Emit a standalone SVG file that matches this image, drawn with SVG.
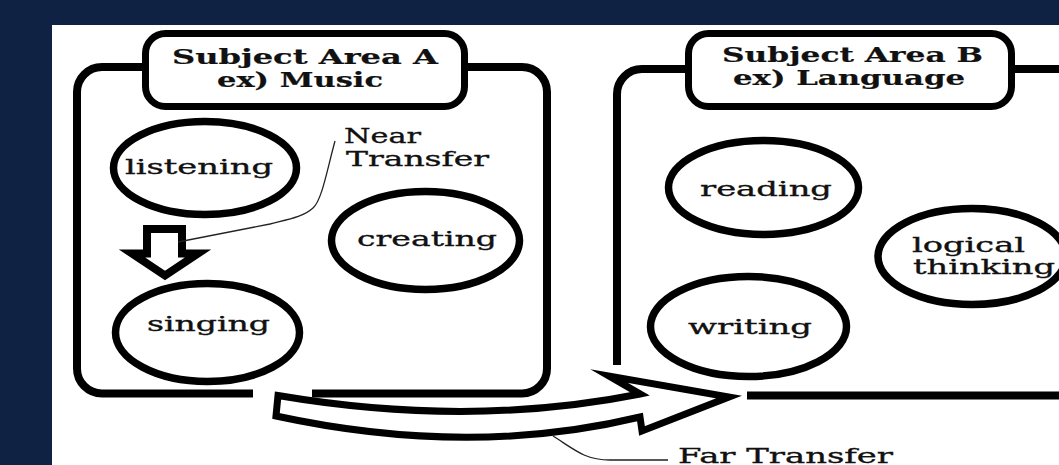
<svg xmlns="http://www.w3.org/2000/svg" width="1059" height="465" viewBox="0 0 1059 465">
<style>
.bg{fill:#0f2243}
.panel{fill:#ffffff}
.box{fill:none;stroke:#000;stroke-width:8;stroke-linejoin:round}
.title{fill:#fff;stroke:#000;stroke-width:7}
.node{fill:#fff;stroke:#000;stroke-width:7.5}
.blk{fill:#fff;stroke:#000;stroke-linejoin:miter;stroke-miterlimit:10}
.thin{fill:none;stroke:#222;stroke-width:1.3}
text{font-family:"DejaVu Serif","Liberation Serif",serif;font-size:21px;fill:#111;stroke:#111;stroke-width:0.35}
.tt{font-weight:bold;stroke-width:0.2}
</style>
<rect class="bg" x="0" y="0" width="1059" height="465"/>
<rect class="panel" x="52" y="25" width="1007" height="440"/>

<g id="areaA">
<path class="box" d="M253,393.5 L102,393.5 A25,25 0 0 1 77,368.5 L77,92 A25,25 0 0 1 102,67 L522,67 A25,25 0 0 1 547,92 L547,368.5 A25,25 0 0 1 522,393.5 L312,393.5"/>
<rect class="title" x="145.5" y="33.5" width="319" height="73" rx="20"/>
<text class="tt" x="172" y="64" textLength="266" lengthAdjust="spacingAndGlyphs">Subject Area A</text>
<text class="tt" x="217" y="87" textLength="166" lengthAdjust="spacingAndGlyphs">ex) Music</text>
</g>

<g id="areaB">
<path class="box" d="M617,365 L617,94 A25,25 0 0 1 642,69 L1065,69"/>
<path class="box" d="M747,395.5 L1065,395.5"/>
<rect class="title" x="688.5" y="33.5" width="323" height="73" rx="20"/>
<text class="tt" x="722" y="62" textLength="261" lengthAdjust="spacingAndGlyphs">Subject Area B</text>
<text class="tt" x="733" y="85" textLength="232" lengthAdjust="spacingAndGlyphs">ex) Language</text>
</g>

<g id="listening">
<ellipse class="node" cx="205" cy="168" rx="91.5" ry="46.5"/>
<text x="125" y="174" textLength="148" lengthAdjust="spacingAndGlyphs">listening</text>
</g>
<g id="creating">
<ellipse class="node" cx="425.5" cy="240.5" rx="94" ry="49"/>
<text x="357" y="246" textLength="140" lengthAdjust="spacingAndGlyphs">creating</text>
</g>
<g id="singing">
<ellipse class="node" cx="207.5" cy="332.5" rx="92" ry="49"/>
<text x="147" y="331" textLength="123" lengthAdjust="spacingAndGlyphs">singing</text>
</g>
<g id="reading">
<ellipse class="node" cx="763.5" cy="187.5" rx="95" ry="47"/>
<text x="700" y="196" textLength="132" lengthAdjust="spacingAndGlyphs">reading</text>
</g>
<g id="writing">
<ellipse class="node" cx="748.5" cy="326.5" rx="98" ry="50"/>
<text x="688" y="334" textLength="124" lengthAdjust="spacingAndGlyphs">writing</text>
</g>
<g id="logical">
<ellipse class="node" cx="972" cy="256.5" rx="94" ry="48"/>
<text x="912" y="252" textLength="113" lengthAdjust="spacingAndGlyphs">logical</text>
<text x="913" y="274" textLength="142" lengthAdjust="spacingAndGlyphs">thinking</text>
</g>

<g id="connectors">
<path class="blk" stroke-width="8" d="M147,229 L182,229 L182,253.5 L198,253.5 L165,275.5 L132,253.5 L147,253.5 Z"/>
<path class="thin" d="M335,141 C327,170 322,200 313,208 C303,217 290,219 270,224 L178,242"/>
<path class="blk" stroke-width="7" d="M278,395.5 Q470,428 640,394 L609,376 L729,397 L642,431 L640,417 Q470,458 276,416 Z"/>
<path class="thin" d="M553,436 C575,450 585,460 610,460 L668,460"/>
</g>

<g id="labels">
<text x="344" y="143" textLength="77" lengthAdjust="spacingAndGlyphs">Near</text>
<text x="346" y="166" textLength="143" lengthAdjust="spacingAndGlyphs">Transfer</text>
<text x="678" y="463" textLength="215" lengthAdjust="spacingAndGlyphs">Far Transfer</text>
</g>
</svg>
